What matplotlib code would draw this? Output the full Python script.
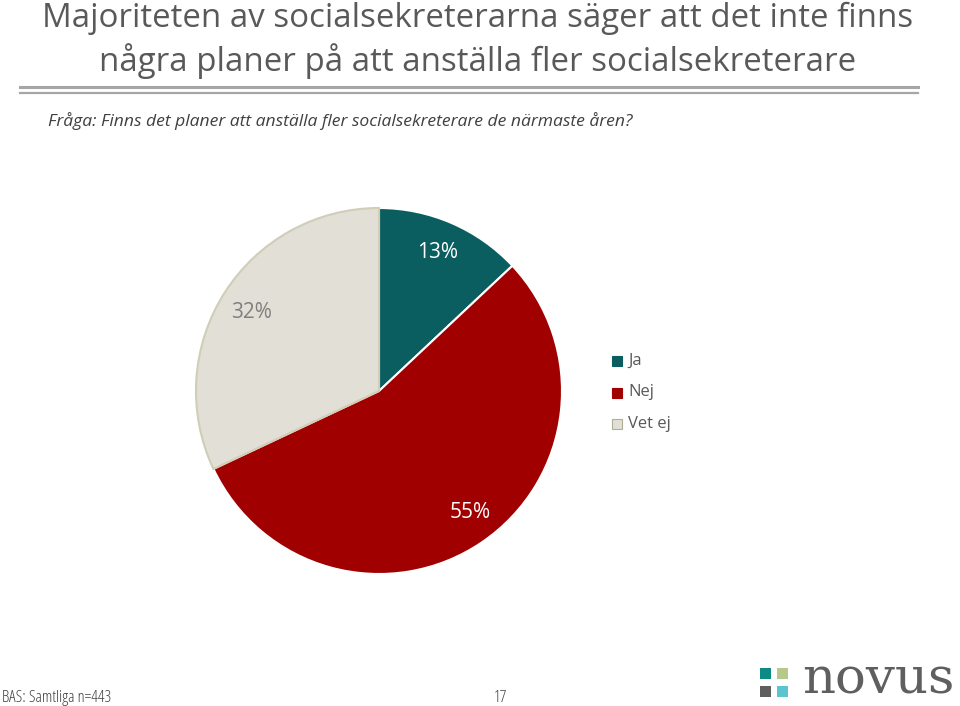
import matplotlib.pyplot as plt
from matplotlib.patches import Rectangle

# data
kategorier = ['Ja', 'Nej', 'Vet ej']
andelar = [13, 55, 32]
farger = ['#0B5E60', '#A00000', '#E2DFD7']
etikett_farger = ['white', 'white', '#7F7F7F']

titel = 'Majoriteten av socialsekreterarna säger att det inte finns\nnågra planer på att anställa fler socialsekreterare'
fraga = 'Fråga: Finns det planer att anställa fler socialsekreterare de närmaste åren?'
bas = 'BAS: Samtliga n=443'
sida = '17'

plt.rcParams['font.family'] = ['Open Sans', 'DejaVu Sans']

W, H = 960, 706
fig = plt.figure(figsize=(W / 100, H / 100), dpi=100)

# titel och linjer
fig.text(478 / W, 1 - 40 / H, titel, ha='center', va='center', fontsize=23.8,
         color='#595959', linespacing=1.3)
fig.add_artist(plt.Line2D([20 / W, 918 / W], [1 - 87 / H] * 2, color='#A6A6A6', lw=2.2))
fig.add_artist(plt.Line2D([20 / W, 918 / W], [1 - 93 / H] * 2, color='#A6A6A6', lw=1.6))
fig.text(48 / W, 1 - 121 / H, fraga, ha='left', va='center', fontsize=12.6,
         style='italic', color='#404040')

# cirkeldiagram
cx, cy, r = 379, 391, 183
ax = fig.add_axes([(cx - r) / W, (H - cy - r) / H, 2 * r / W, 2 * r / H])
wedges, texts = ax.pie(andelar, colors=farger, startangle=90, counterclock=False,
                       wedgeprops=dict(edgecolor='white', linewidth=1.5))
wedges[2].set_edgecolor('#D0CDB8')
wedges[2].set_linewidth(1.5)
ax.set_xlim(-1, 1)
ax.set_ylim(-1, 1)
ax.set_aspect('equal')
ax.axis('off')

etikett_pos = [(438, 253), (470, 513), (251, 312)]
for (px, py), v, c in zip(etikett_pos, andelar, etikett_farger):
    fig.text(px / W, 1 - py / H, f'{v}%', ha='center', va='center', fontsize=15, color=c)

# legend
for i, (k, f) in enumerate(zip(kategorier, farger)):
    y = 361 + i * 31.5
    fig.add_artist(Rectangle(((612) / W, 1 - (y + 5) / H), 10 / W, 10 / H,
                             transform=fig.transFigure, facecolor=f,
                             edgecolor='#B0AE98' if i == 2 else f, lw=0.8))
    fig.text(628 / W, 1 - y / H, k, ha='left', va='center', fontsize=12, color='#595959')

# sidfot
fig.text(2 / W, 1 - 698 / H, bas, ha='left', va='center', fontsize=12, color='#404040',
         fontstretch='condensed')
fig.text(500 / W, 1 - 698 / H, sida, ha='center', va='center', fontsize=12, color='#404040',
         fontstretch='condensed')

# logga
logo_farger = ['#0E8A86', '#B7C98A', '#5F5F5F', '#5CC3D1']
logo_pos = [(760, 668), (777, 668), (760, 686), (777, 686)]
for (lx, ly), lf in zip(logo_pos, logo_farger):
    fig.add_artist(Rectangle((lx / W, 1 - (ly + 11) / H), 11 / W, 11 / H,
                             transform=fig.transFigure, facecolor=lf, edgecolor='none'))
fig.text(955 / W, 1 - 705 / H, 'novus', ha='right', va='bottom', fontsize=37,
         family=['DejaVu Serif'], color='#5F5F5F')

fig.savefig('out.png', dpi=100, facecolor='white')
